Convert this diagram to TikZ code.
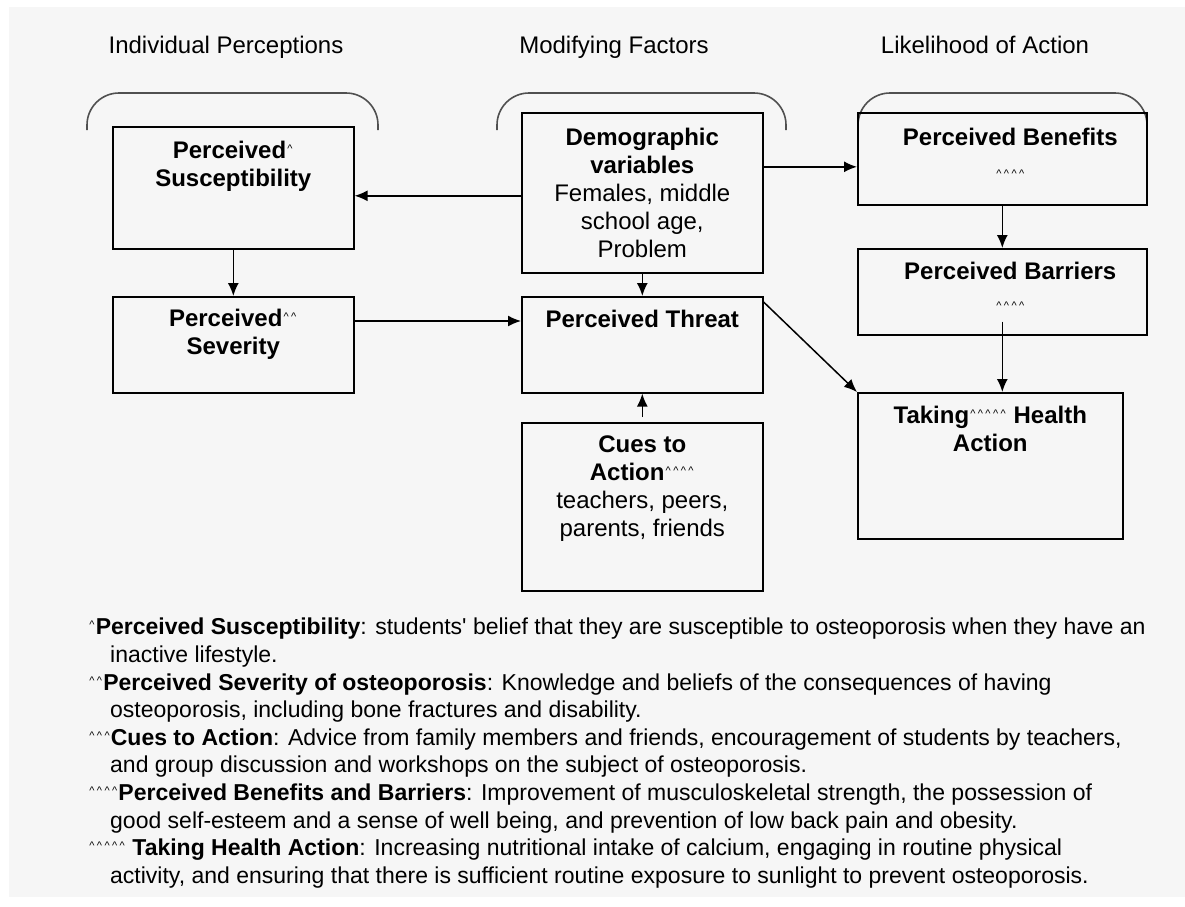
\documentclass[tikz,border=0pt]{standalone}
\usepackage{fontspec}
\setmainfont{Liberation Sans}
\usetikzlibrary{arrows.meta}
\definecolor{bg}{HTML}{F6F6F6}
\definecolor{brk}{HTML}{505050}
\newcommand\cx{\kern1.2pt\textasciicircum\kern1.2pt}
\newcommand\carets[1]{{\fontsize{11}{11}\selectfont\mdseries #1}}
\newcommand\mk[1]{\raisebox{6pt}{\carets{#1}}}

\begin{document}
\begin{tikzpicture}[x=1pt,y=-1pt,
    >={Latex[length=13pt,width=11pt]},
    box/.style={draw,line width=1.6pt,anchor=north west,inner sep=0pt},
    txt/.style={anchor=north,align=center,inner sep=0pt,font=\fontsize{24}{28}\selectfont},
    arr/.style={->,line width=1.5pt}]
\useasboundingbox (0,0) rectangle (1185,906);
\fill[bg] (9,7) rectangle (1185,897);

\foreach \x/\t [count=\i] in {226/Individual Perceptions,614/Modifying Factors,985/Likelihood of Action}
  \node[anchor=base,font=\fontsize{24}{28}\selectfont] (head\i) at (\x,53) {\t};
\foreach \a/\b in {87/378,497/786,858/1147}
  \draw[brk,line width=1.6pt,rounded corners=32pt] (\a,130) -- (\a,93) -- (\b,93) -- (\b,130);

\node[box,minimum width=241pt,minimum height=122pt] (sus) at (112,126) {};
\node[box,minimum width=241pt,minimum height=96pt] (sev) at (112,296) {};
\node[box,minimum width=241pt,minimum height=160pt] (dem) at (521,112) {};
\node[box,minimum width=241pt,minimum height=96pt] (thr) at (521,296) {};
\node[box,minimum width=241pt,minimum height=168pt] (cue) at (521,422) {};
\node[box,minimum width=289pt,minimum height=92pt] (ben) at (857,112) {};
\node[box,minimum width=289pt,minimum height=86pt] (bar) at (857,248) {};
\node[box,minimum width=265pt,minimum height=146pt] (hea) at (857,392) {};

\node[txt] (sus-t) at ([yshift=-15pt]sus.north) {\textbf{Perceived\mk{\cx}}\\\textbf{Susceptibility}};
\node[txt] (sev-t) at ([yshift=-13pt]sev.north) {\textbf{Perceived\mk{\cx\cx}}\\\textbf{Severity}};
\node[txt] (dem-t) at ([yshift=-16pt]dem.north) {\textbf{Demographic}\\\textbf{variables}\\Females, middle\\school age,\\Problem};
\node[txt] (thr-t) at ([yshift=-14pt]thr.north) {\textbf{Perceived Threat}};
\node[txt] (cue-t) at ([yshift=-14pt]cue.north) {\textbf{Cues to}\\\textbf{Action}\mk{\cx\cx\cx\cx}\\teachers, peers,\\parents, friends};
\node[txt,xshift=8pt] (ben-t) at ([yshift=-16pt]ben.north) {\textbf{Perceived Benefits}\\[4pt]\carets{\cx\cx\cx\cx}};
\node[txt,xshift=8pt] (bar-t) at ([yshift=-14pt]bar.north) {\textbf{Perceived Barriers}\\[2pt]\carets{\cx\cx\cx\cx}};
\node[txt] (hea-t) at ([yshift=-14pt]hea.north) {\textbf{Taking\mk{\cx\cx\cx\cx\cx} Health}\\\textbf{Action}};

\draw[arr] ([yshift=-3pt]dem.west) -- ([yshift=-3pt]dem.west -| sus.east);
\draw[arr] ([yshift=-8pt]ben.west -| dem.east) -- ([yshift=-8pt]ben.west);
\draw[arr] (sus.south) -- (sev.north);
\draw[arr] (dem.south) -- (thr.north);
\draw[arr] ([yshift=-25pt]sev.north east) -- ([yshift=-25pt]sev.north east -| thr.west);
\draw[arr] ([yshift=5pt]cue.north) -- (thr.south);
\draw[arr] (ben.south) -- (bar.north);
\draw[arr] ([yshift=14pt]bar.south) -- (bar.south |- hea.north);
\draw[arr] ([yshift=-6pt]thr.north east) -- (hea.north west);

\node[anchor=north west,align=left,inner sep=0pt,font=\fontsize{23}{27.6}\selectfont] (notes) at (88,618) {%
\mk{\cx}\textbf{Perceived Susceptibility}: students\textquotesingle{} belief that they are susceptible to osteoporosis when they have an\\
\hspace*{22pt}inactive lifestyle.\\
\mk{\cx\cx}\textbf{Perceived Severity of osteoporosis}: Knowledge and beliefs of the consequences of having\\
\hspace*{22pt}osteoporosis, including bone fractures and disability.\\
\mk{\cx\cx\cx}\textbf{Cues to Action}: Advice from family members and friends, encouragement of students by teachers,\\
\hspace*{22pt}and group discussion and workshops on the subject of osteoporosis.\\
\mk{\cx\cx\cx\cx}\textbf{Perceived Benefits and Barriers}: Improvement of musculoskeletal strength, the possession of\\
\hspace*{22pt}good self-esteem and a sense of well being, and prevention of low back pain and obesity.\\
\mk{\cx\cx\cx\cx\cx} \textbf{Taking Health Action}: Increasing nutritional intake of calcium, engaging in routine physical\\
\hspace*{22pt}activity, and ensuring that there is sufficient routine exposure to sunlight to prevent osteoporosis.};
\end{tikzpicture}
\end{document}
